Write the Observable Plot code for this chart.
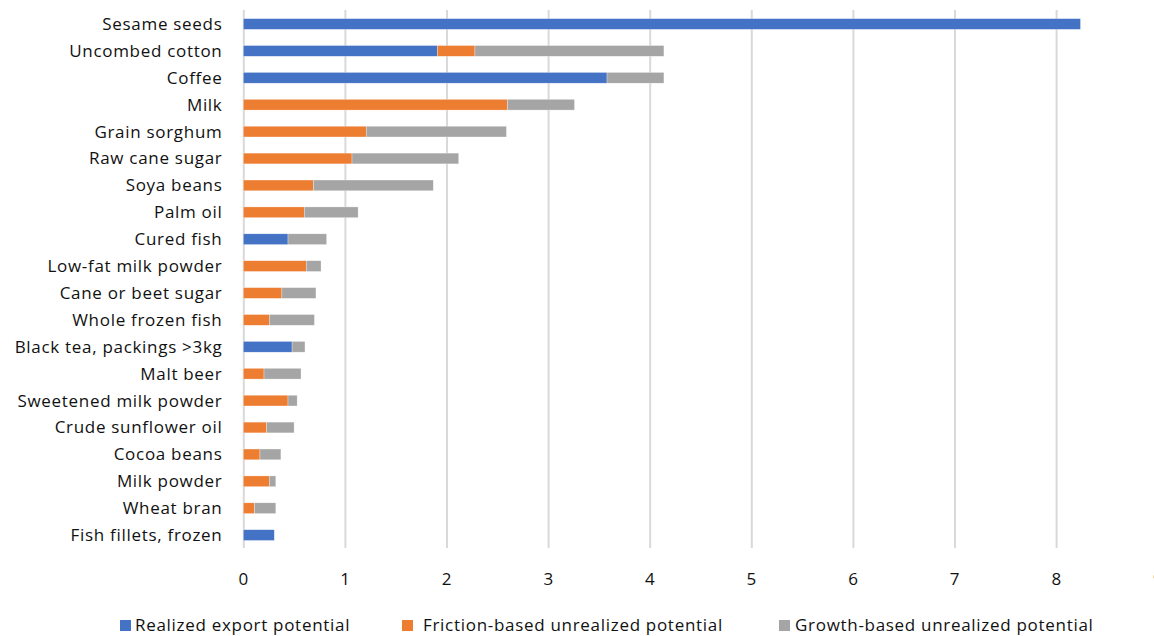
<!DOCTYPE html>
<html>
<head>
<meta charset="utf-8">
<script src="https://cdn.jsdelivr.net/npm/d3@7"></script>
<script src="https://cdn.jsdelivr.net/npm/@observablehq/plot@0.6"></script>
<style>
  html, body { margin: 0; padding: 0; background: #fff; }
  body { width: 1154px; height: 636px; overflow: hidden; position: relative; font-family: "Open Sans", sans-serif; }
  #chart { position: absolute; left: 0; top: 0; }
  .leg { position: absolute; top: 613px; font-size: 17px; letter-spacing: 0.7px; color: #111; white-space: nowrap; line-height: 24px; }
  .sw { position: absolute; width: 11px; height: 11px; }
</style>
</head>
<body>
<div id="chart"></div>
<div id="legend"></div>
<script>
const categories = ["Sesame seeds","Uncombed cotton","Coffee","Milk","Grain sorghum","Raw cane sugar","Soya beans","Palm oil","Cured fish","Low-fat milk powder","Cane or beet sugar","Whole frozen fish","Black tea, packings >3kg","Malt beer","Sweetened milk powder","Crude sunflower oil","Cocoa beans","Milk powder","Wheat bran","Fish fillets, frozen"];
const realized = [8.24,1.91,3.58,0,0,0,0,0,0.44,0,0,0,0.48,0,0,0,0,0,0,0.305];
const friction = [0,0.37,0,2.60,1.21,1.07,0.69,0.60,0,0.62,0.38,0.256,0,0.204,0.44,0.23,0.164,0.256,0.11,0];
const growth = [0,1.86,0.56,0.66,1.38,1.05,1.18,0.53,0.38,0.145,0.335,0.444,0.127,0.364,0.09,0.27,0.206,0.064,0.21,0];
const seriesNames = ["Realized export potential","Friction-based unrealized potential","Growth-based unrealized potential"];
const seriesColors = ["#4472C4","#ED7D31","#A5A5A5"];
const xTicks = [0,1,2,3,4,5,6,7,8,9];

const rows = [];
categories.forEach((c, i) => {
  [realized, friction, growth].forEach((arr, s) => {
    rows.push({category: c, series: seriesNames[s], value: arr[i]});
  });
});

const step = 26.9;
const pad = 0.6;
const yTop = 24 - step * (1 + pad) / 2;
const yBottom = yTop + step * (categories.length + pad);

const chart = Plot.plot({
  width: 1154,
  height: 600,
  marginTop: 10,
  marginBottom: 52,
  marginLeft: 243,
  marginRight: 0,
  style: {fontFamily: "'Open Sans', sans-serif", fontSize: "17px", color: "#111", background: "#fff", letterSpacing: "0.7px"},
  x: {domain: [0, 9], range: [243.3, 243.3 + 9 * 101.6], label: null},
  y: {domain: categories, range: [yTop, yBottom], padding: pad, round: false, label: null},
  color: {domain: seriesNames, range: seriesColors},
  marks: [
    Plot.ruleX(xTicks, {stroke: "#d9d9d9", strokeWidth: 2}),
    Plot.barX(rows, {y: "category", x: "value", fill: "series", stroke: "#fff", strokeWidth: 0.5, strokeOpacity: 0.6}),
    Plot.axisX({ticks: xTicks, tickSize: 0, tickPadding: 24, fontSize: 17, label: null, tickFormat: d => String(d)}),
    Plot.axisY({tickSize: 0, tickPadding: 21, fontSize: 17, label: null})
  ]
});
document.getElementById("chart").appendChild(chart);

const legendPos = [{sw: 120, tx: 135}, {sw: 402, tx: 423}, {sw: 779, tx: 795}];
const legend = document.getElementById("legend");
seriesNames.forEach((name, i) => {
  const sw = document.createElement("div");
  sw.className = "sw";
  sw.style.left = legendPos[i].sw + "px";
  sw.style.top = "620px";
  sw.style.background = seriesColors[i];
  legend.appendChild(sw);
  const t = document.createElement("div");
  t.className = "leg";
  t.style.left = legendPos[i].tx + "px";
  t.textContent = name;
  legend.appendChild(t);
});
</script>
</body>
</html>
